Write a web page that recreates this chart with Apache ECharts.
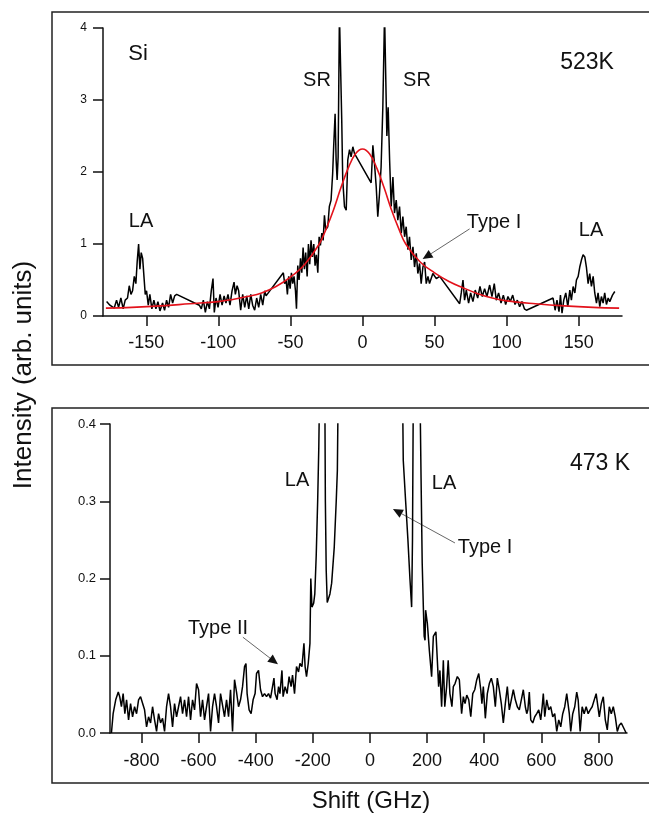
<!DOCTYPE html>
<html><head><meta charset="utf-8">
<script src="https://cdn.jsdelivr.net/npm/echarts@6/dist/echarts.min.js"></script>
<style>html,body{margin:0;padding:0;background:#fff;}#c{width:649px;height:817px;}</style>
</head><body><div id="c"></div>
<script>
// ---- Top panel (Si, 523K): measured spectrum ----
const topShift = [-177.5,-175.2,-172.2,-170.6,-169.2,-167.6,-166,-164.6,-163,-161.8,-160.6,-159.5,-158.3,-157.2,-156.3,-155.3,-154.4,-153.5,-152.5,-151.6,-150.7,-149.8,-148.6,-147.5,-146.1,-144.7,-143.3,-141.9,-140.5,-138.7,-137.3,-135.9,-134.5,-133.1,-131.7,-130.3,-128.9,-113.2,-111.8,-110.4,-109,-107.6,-106.2,-104.9,-103.7,-102.8,-101.6,-100.2,-98.8,-97.4,-96,-94.7,-93.3,-91.9,-90.5,-89.1,-88.2,-87,-85.9,-84.5,-83.1,-81.7,-80.3,-78.9,-77.5,-76.2,-74.8,-73.4,-72,-70.6,-69.2,-67.8,-66.9,-54.9,-54,-53,-52.1,-51.2,-50.2,-49.3,-48.4,-47.5,-46.5,-45.8,-44.9,-44,-43,-42.1,-41.2,-40.3,-39.4,-38.4,-37.5,-36.6,-35.7,-34.7,-33.8,-32.9,-32,-31,-30.1,-29.2,-28.2,-27.3,-26.4,-25.5,-24.1,-23,-21.8,-20.7,-20,-19,-18.3,-17.6,-16.9,-16,-15.1,-14.4,-13.7,-12.5,-11.3,-10.2,-9,-7.9,-6.7,-5.6,6,7.2,8.3,9.5,10.6,11.8,12.9,14.1,15.3,16.2,16.9,17.8,18.8,19.9,21.1,22.2,23.4,24.5,25.7,26.9,28,29.2,30.3,31.5,32.6,33.8,35,36.1,37.3,38.4,39.6,40.7,41.9,43.1,44.2,45.4,46.5,48.8,51.2,53.5,67.4,68.5,69.7,70.8,72,73.6,75,76.6,78.2,79.9,81.5,83.1,84.7,86.3,88.2,89.8,91.4,92.8,94.4,96.1,97.7,99.3,100.9,102.5,104.2,105.8,107.4,109,110.6,112.3,113.7,132.2,133.6,134.9,136.3,137.3,138.4,139.6,141,142.4,143.8,144.9,146.1,147.3,148.4,149.6,150.7,151.9,153,154.2,155.3,156.5,157.6,158.8,160,161.1,162.3,163.4,164.6,165.7,166.9,168,169.2,170.4,171.5,173.4,175];
const topIntensity = [0.2,0.15,0.11,0.22,0.12,0.25,0.1,0.22,0.25,0.42,0.3,0.35,0.55,0.45,0.75,1.0,0.65,0.88,0.8,0.55,0.3,0.35,0.15,0.3,0.1,0.22,0.1,0.2,0.07,0.18,0.08,0.22,0.12,0.3,0.18,0.28,0.3,0.15,0.1,0.22,0.05,0.2,0.1,0.35,0.52,0.05,0.25,0.12,0.3,0.15,0.28,0.18,0.3,0.15,0.35,0.47,0.3,0.42,0.35,0.08,0.3,0.12,0.28,0.1,0.3,0.15,0.08,0.25,0.12,0.3,0.15,0.35,0.28,0.6,0.45,0.5,0.3,0.55,0.38,0.6,0.45,0.55,0.35,0.1,0.7,0.5,0.8,0.6,0.95,0.65,0.88,0.55,1.0,0.72,1.05,0.82,1.0,0.7,0.85,0.6,1.1,0.98,1.15,1.05,1.4,1.2,1.24,1.52,1.61,1.98,2.35,2.81,2.17,1.89,2.21,4.2,4.2,2.72,1.89,1.52,1.47,2.17,2.31,2.21,2.35,2.26,1.85,2.37,2.12,1.8,1.38,1.7,2.07,2.9,4.2,4.2,2.5,2.9,2.17,1.52,1.93,1.43,1.61,1.33,1.52,1.15,1.38,1.1,1.24,0.92,1.1,0.78,0.96,0.68,0.87,0.59,0.73,0.45,0.68,0.75,0.45,0.55,0.45,0.59,0.52,0.55,0.17,0.32,0.5,0.22,0.36,0.18,0.32,0.2,0.36,0.25,0.41,0.27,0.38,0.27,0.43,0.27,0.45,0.22,0.32,0.18,0.29,0.16,0.27,0.2,0.29,0.16,0.22,0.13,0.2,0.1,0.08,0.25,0.08,0.22,0.06,0.29,0.04,0.22,0.32,0.13,0.36,0.22,0.41,0.32,0.5,0.55,0.68,0.78,0.85,0.82,0.68,0.45,0.59,0.41,0.55,0.32,0.18,0.32,0.13,0.27,0.18,0.32,0.16,0.25,0.2,0.29,0.34];
// ---- Top panel: fitted curve (red) ----
const fitShift = [-178,-160,-140,-120,-100,-90,-80,-70,-60,-50,-40,-30,-25,-20,-15,-10,-5,0,5,10,15,20,25,30,40,50,60,70,80,90,100,120,140,160,178];
const fitIntensity = [0.11,0.12,0.14,0.17,0.2,0.23,0.27,0.32,0.41,0.54,0.72,1.0,1.22,1.48,1.78,2.05,2.25,2.32,2.25,2.05,1.78,1.48,1.22,1.0,0.75,0.6,0.48,0.39,0.31,0.25,0.21,0.17,0.14,0.12,0.11];
// ---- Bottom panel (473 K) ----
const bottomShift = [-905,-899,-890,-881,-876,-870,-864,-858,-852,-845,-838,-831,-824,-817,-810,-803,-796,-789,-782,-775,-768,-761,-754,-747,-740,-733,-726,-719,-712,-705,-698,-691,-684,-677,-670,-663,-656,-649,-642,-635,-628,-621,-614,-607,-600,-593,-586,-579,-572,-565,-558,-551,-544,-537,-530,-523,-516,-509,-502,-495,-488,-481,-474,-467,-460,-453,-446,-439,-434,-430,-423,-416,-409,-402,-397,-390,-383,-376,-369,-362,-355,-348,-341,-336,-332,-325,-320,-315,-308,-304,-297,-290,-283,-276,-271,-264,-257,-250,-245,-238,-231,-227,-222,-216,-210,-207,-203,-197,-193,-188,-183,-179,-176,-158,-156,-153,-149.5,-140,-134,-125,-118,-114,-111,114,116.7,125,133,140,146,149,152,175,179,183,187,190,193,195,201,208,216,222,231,236,240.5,245,251,257,262,268.5,274,280,287,292,298,306,313,321,327,333,339,346,353,360,367,374,381,388,392,397,404,411,418,425,432,439,446,453,460,467,474,481,488,495,502,509,516,523,530,537,544,549,553,558,563,570,577,584,591,598,603,607,612,619,626,633,640,647,654,661,668,675,682,689,694,698,703,710,717,724,729,736,743,750,757,764,771,778,785,792,799,803,810,817,824,831,838,845,852,859,866,873,880,887,897];
const bottomIntensity = [0,0.025,0.043,0.053,0.047,0.034,0.051,0.025,0.043,0.017,0.038,0.021,0.034,0.025,0.043,0.047,0.048,0.03,0.008,0.021,0.013,0.034,0.017,0.002,0.025,0.013,0.019,0.002,0.034,0.051,0.034,0.008,0.038,0.021,0.034,0.047,0.025,0.043,0.021,0.047,0.017,0.043,0.03,0.064,0.056,0.021,0.043,0.017,0.034,0.051,0.002,0.034,0.051,0.034,0.013,0.051,0.053,0.021,0.043,0.021,0.056,0.002,0.069,0.053,0.034,0.043,0.06,0.086,0.09,0.051,0.03,0.025,0.043,0.051,0.077,0.081,0.056,0.047,0.051,0.047,0.051,0.045,0.06,0.071,0.051,0.043,0.06,0.051,0.081,0.047,0.06,0.051,0.073,0.06,0.075,0.051,0.086,0.079,0.09,0.086,0.116,0.086,0.073,0.09,0.116,0.2,0.163,0.168,0.18,0.23,0.3,0.37,0.45,0.45,0.3,0.21,0.169,0.18,0.194,0.24,0.3,0.34,0.45,0.45,0.353,0.3,0.25,0.2,0.163,0.25,0.45,0.45,0.33,0.22,0.163,0.125,0.12,0.159,0.142,0.107,0.073,0.125,0.131,0.094,0.06,0.081,0.034,0.094,0.034,0.06,0.094,0.051,0.034,0.06,0.064,0.073,0.069,0.025,0.047,0.038,0.049,0.043,0.021,0.051,0.056,0.069,0.077,0.056,0.038,0.06,0.019,0.051,0.064,0.071,0.06,0.034,0.071,0.056,0.038,0.013,0.038,0.06,0.03,0.043,0.056,0.043,0.034,0.03,0.043,0.056,0.034,0.025,0.03,0.053,0.017,0.013,0.021,0.025,0.03,0.017,0.034,0.051,0.021,0.043,0.03,0.034,0.021,0.025,0.002,0.017,0.008,0.025,0.034,0.051,0.053,0.025,0.002,0.025,0.034,0.053,0.043,0.002,0.034,0.025,0.034,0.025,0.03,0.034,0.034,0.051,0.053,0.021,0.038,0.047,0.017,0.004,0.034,0.025,0.034,0.021,0.002,0.01,0.013,0.013,0];
// ---- Axis ticks ----
const topXTicks = [-150,-100,-50,0,50,100,150];
const topYTicks = [0,1,2,3,4];
const bottomXTicks = [-800,-600,-400,-200,0,200,400,600,800];
const bottomYTicks = [0,0.1,0.2,0.3,0.4];

const zip = (a,b) => a.map((x,i)=>[x,b[i]]);
const FONT = '"Liberation Sans", Arial, Helvetica, sans-serif';
const INK = '#111';

function xAx(grid, min, max, ticks, margin){
  return {type:'value', gridIndex:grid, min, max,
    axisLine:{show:true, onZero:false, lineStyle:{color:INK, width:1.5}},
    axisTick:{show:true, length:10, inside:false, customValues:ticks, lineStyle:{color:INK, width:1.5}},
    axisLabel:{customValues:ticks, fontSize:18, margin:margin, color:INK, fontFamily:FONT},
    splitLine:{show:false}};
}
function yAx(grid, min, max, ticks, fs, margin, fmt){
  return {type:'value', gridIndex:grid, min, max,
    axisLine:{show:true, onZero:false, lineStyle:{color:INK, width:1.5}},
    axisTick:{show:true, length:10, inside:false, customValues:ticks, lineStyle:{color:INK, width:1.5}},
    axisLabel:{customValues:ticks, fontSize:fs, margin:margin, color:INK, fontFamily:FONT, formatter:fmt},
    splitLine:{show:false}};
}

const chart = echarts.init(document.getElementById('c'), null, {renderer:'canvas'});
chart.setOption({
  animation:false,
  backgroundColor:'#fff',
  grid:[
    {left:103, top:28, width:519, height:288},
    {left:110, top:424, width:517, height:309}
  ],
  xAxis:[ xAx(0,-180,180,topXTicks,18), xAx(1,-910,900,bottomXTicks,19) ],
  yAxis:[ yAx(0,0,4,topYTicks,12,16,v=>String(v)), yAx(1,0,0.4,bottomYTicks,13,14,v=>v.toFixed(1)) ],
  series:[
    {type:'line', xAxisIndex:0, yAxisIndex:0, data:zip(topShift,topIntensity), showSymbol:false, clip:true,
     lineStyle:{color:'#000', width:1.5}, z:3},
    {type:'line', xAxisIndex:0, yAxisIndex:0, data:zip(fitShift,fitIntensity), showSymbol:false, clip:true, smooth:0.4,
     lineStyle:{color:'#e3121b', width:1.6}, z:4},
    {type:'line', xAxisIndex:1, yAxisIndex:1, data:zip(bottomShift,bottomIntensity), showSymbol:false, clip:true,
     lineStyle:{color:'#000', width:1.5}, z:3}
  ]
});

// Annotation arrows in data coordinates [grid, tail, tip]
const arrows = [
  [0, [74.3,1.21], [41.7,0.79]],
  [1, [297.7,0.246], [80.6,0.29]],
  [1, [-444.8,0.124], [-322,0.089]]
];
const g = [];
g.push({type:'rect', shape:{x:52,y:12,width:640,height:353}, style:{fill:'none', stroke:'#222', lineWidth:1.5}, silent:true});
g.push({type:'rect', shape:{x:52,y:408,width:640,height:375}, style:{fill:'none', stroke:'#222', lineWidth:1.5}, silent:true});
arrows.forEach(([gi,t,h])=>{
  const a = chart.convertToPixel({gridIndex:gi}, t);
  const b = chart.convertToPixel({gridIndex:gi}, h);
  const dx=b[0]-a[0], dy=b[1]-a[1], L=Math.hypot(dx,dy), ux=dx/L, uy=dy/L;
  const hl=10, hw=4.5;
  const bx=b[0]-ux*hl, by=b[1]-uy*hl;
  g.push({type:'line', shape:{x1:a[0],y1:a[1],x2:bx,y2:by}, style:{stroke:'#555', lineWidth:0.9}, silent:true});
  g.push({type:'polygon', shape:{points:[[b[0],b[1]],[bx-uy*hw,by+ux*hw],[bx+uy*hw,by-ux*hw]]}, style:{fill:'#111'}, silent:true});
});
function txt(s,x,y,fs){ return {type:'text', x:x, y:y, style:{text:s, x:0, y:0, fontSize:fs, fontFamily:FONT, fill:INK, align:'center', verticalAlign:'middle'}, silent:true}; }
g.push(txt('Si',138,54,22));
g.push(txt('SR',317,80,20));
g.push(txt('SR',417,80,20));
g.push(txt('523K',587,63,23));
g.push(txt('LA',141,221,20));
g.push(txt('LA',591,230,20));
g.push(txt('Type I',494,222,20));
g.push(txt('LA',297,480,20));
g.push(txt('LA',444,483,20));
g.push(txt('473 K',600,464,23));
g.push(txt('Type I',485,547,20));
g.push(txt('Type II',218,628,20));
g.push(txt('Shift (GHz)',371,801,24));
g.push({type:'text', x:24, y:375, rotation:Math.PI/2, style:{text:'Intensity (arb. units)', x:0, y:0, fontSize:26, fontFamily:FONT, fill:INK, align:'center', verticalAlign:'middle'}, silent:true});
chart.setOption({graphic:g});
</script></body></html>
